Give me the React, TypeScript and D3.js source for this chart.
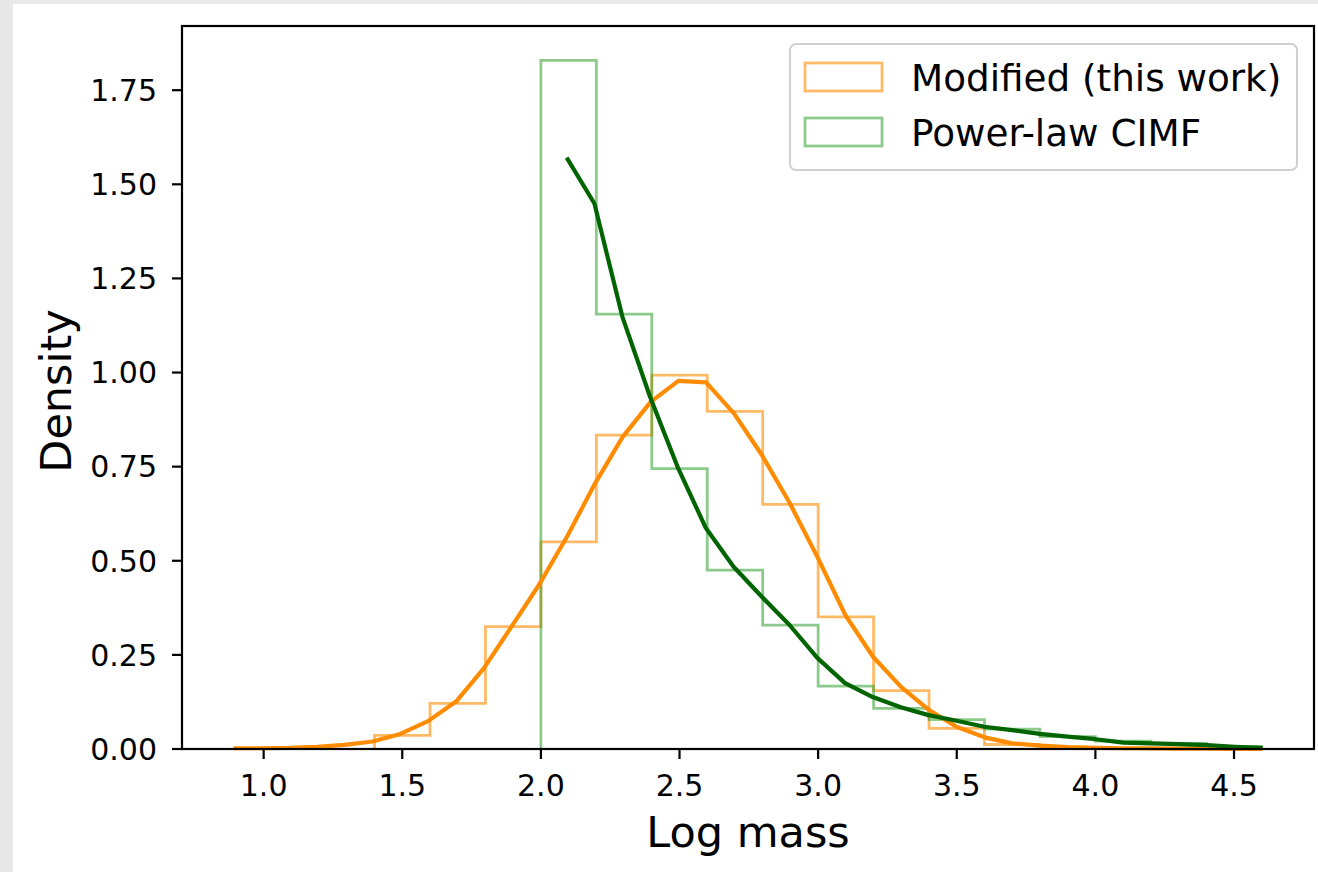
import React from "react";
import * as d3 from "d3";

// ---- data ----
const xTicks = [1.0, 1.5, 2.0, 2.5, 3.0, 3.5, 4.0, 4.5];
const yTicks = [0, 0.25, 0.5, 0.75, 1.0, 1.25, 1.5, 1.75];

const modifiedBinEdges = [1.4, 1.6, 1.8, 2.0, 2.2, 2.4, 2.6, 2.8, 3.0, 3.2, 3.4, 3.6, 3.8, 4.0, 4.2];
const modifiedBinValues = [0.036, 0.121, 0.325, 0.55, 0.834, 0.993, 0.897, 0.65, 0.351, 0.155, 0.055, 0.012, 0.004, 0.001];

const powerBinEdges = [2.0, 2.2, 2.4, 2.6, 2.8, 3.0, 3.2, 3.4, 3.6, 3.8, 4.0, 4.2, 4.4, 4.6];
const powerBinValues = [1.829, 1.155, 0.745, 0.475, 0.329, 0.167, 0.108, 0.078, 0.053, 0.033, 0.021, 0.015, 0.006];

const modifiedCurveX = [0.891, 0.991, 1.092, 1.192, 1.292, 1.393, 1.493, 1.593, 1.694, 1.794, 1.894, 1.994, 2.095, 2.195, 2.295, 2.396, 2.496, 2.596, 2.697, 2.797, 2.897, 2.998, 3.098, 3.198, 3.299, 3.399, 3.499, 3.6, 3.7, 3.8, 3.901, 4.001, 4.101, 4.202, 4.302, 4.402, 4.503, 4.603];
const modifiedCurveY = [0.002, 0.002, 0.003, 0.006, 0.011, 0.02, 0.04, 0.074, 0.126, 0.214, 0.325, 0.437, 0.565, 0.705, 0.829, 0.922, 0.978, 0.974, 0.891, 0.781, 0.654, 0.509, 0.356, 0.245, 0.165, 0.104, 0.059, 0.031, 0.015, 0.009, 0.005, 0.003, 0.002, 0.0015, 0.001, 0.0008, 0.0005, 0.0003];

const powerCurveX = [2.093, 2.193, 2.294, 2.394, 2.495, 2.595, 2.695, 2.796, 2.896, 2.997, 3.097, 3.197, 3.298, 3.398, 3.499, 3.599, 3.699, 3.8, 3.9, 4.001, 4.101, 4.201, 4.302, 4.402, 4.502, 4.603];
const powerCurveY = [1.571, 1.449, 1.148, 0.935, 0.746, 0.587, 0.484, 0.405, 0.33, 0.242, 0.175, 0.138, 0.111, 0.09, 0.075, 0.059, 0.05, 0.04, 0.033, 0.026, 0.017, 0.015, 0.013, 0.0105, 0.006, 0.003];

const legendLabels = ["Modified (this work)", "Power-law CIMF"];

// ---- layout ----
const W = 1318;
const H = 872;
const left = 182;
const right = 1314;
const top = 26;
const bottom = 749;
const FONT = "'DejaVu Sans', sans-serif";

const ORANGE = "#ff8c00";
const GREEN_HIST = "#2e9e2e";
const DARK_GREEN = "#006400";

export default function App() {
  const x = d3.scaleLinear().domain([0.7055, 4.7885]).range([left, right]);
  const y = d3.scaleLinear().domain([0, 1.9205]).range([bottom, top]);

  const line = d3
    .line<[number, number]>()
    .x((d) => x(d[0]))
    .y((d) => y(d[1]));

  const stepPts = (edges: number[], vals: number[]): [number, number][] => {
    const pts: [number, number][] = [[edges[0], 0]];
    vals.forEach((v, i) => {
      pts.push([edges[i], v]);
      pts.push([edges[i + 1], v]);
    });
    pts.push([edges[edges.length - 1], 0]);
    return pts;
  };

  const modHist = line(stepPts(modifiedBinEdges, modifiedBinValues)) || "";
  const powHist = line(stepPts(powerBinEdges, powerBinValues)) || "";
  const modCurve = line(modifiedCurveX.map((v, i) => [v, modifiedCurveY[i]] as [number, number])) || "";
  const powCurve = line(powerCurveX.map((v, i) => [v, powerCurveY[i]] as [number, number])) || "";

  return (
    <svg
      width={W}
      height={H}
      style={{ position: "absolute", left: 0, top: 0, display: "block" }}
      fontFamily={FONT}
    >
      <rect x={0} y={0} width={W} height={H} fill="#e8e8e8" />
      <rect x={13} y={4} width={W - 13} height={H - 4} fill="#ffffff" />

      {/* histograms */}
      <path d={modHist} fill="none" stroke={ORANGE} strokeOpacity={0.6} strokeWidth={2.8} strokeLinejoin="miter" />
      <path d={powHist} fill="none" stroke={GREEN_HIST} strokeOpacity={0.55} strokeWidth={2.8} strokeLinejoin="miter" />

      {/* curves */}
      <path d={modCurve} fill="none" stroke={ORANGE} strokeWidth={4.2} strokeLinejoin="round" />
      <path d={powCurve} fill="none" stroke={DARK_GREEN} strokeWidth={4.2} strokeLinejoin="round" />

      {/* axes frame */}
      <rect x={left} y={top} width={right - left} height={bottom - top} fill="none" stroke="#000" strokeWidth={2.2} />

      {/* x ticks */}
      {xTicks.map((t) => (
        <g key={"x" + t}>
          <line x1={x(t)} x2={x(t)} y1={bottom} y2={bottom + 10} stroke="#000" strokeWidth={2.2} />
          <text x={x(t)} y={796} textAnchor="middle" fontSize={30} fill="#000">
            {t.toFixed(1)}
          </text>
        </g>
      ))}

      {/* y ticks */}
      {yTicks.map((t) => (
        <g key={"y" + t}>
          <line x1={left - 10} x2={left} y1={y(t)} y2={y(t)} stroke="#000" strokeWidth={2.2} />
          <text x={157} y={y(t)} dy="0.36em" textAnchor="end" fontSize={30} fill="#000">
            {t.toFixed(2)}
          </text>
        </g>
      ))}

      {/* axis labels */}
      <text x={(left + right) / 2} y={847} textAnchor="middle" fontSize={43} fill="#000">
        Log mass
      </text>
      <text transform={`translate(71, 391) rotate(-90)`} textAnchor="middle" fontSize={43} fill="#000">
        Density
      </text>

      {/* legend */}
      <rect x={790} y={44} width={507} height={126} rx={6} ry={6} fill="#ffffff" fillOpacity={0.8} stroke="#d0d0d0" strokeWidth={2} />
      <rect x={805} y={63} width={77} height={28} fill="none" stroke={ORANGE} strokeOpacity={0.6} strokeWidth={2.8} />
      <rect x={805} y={118} width={77} height={28} fill="none" stroke={GREEN_HIST} strokeOpacity={0.55} strokeWidth={2.8} />
      <text x={911} y={91} fontSize={37.3} fill="#000">
        {legendLabels[0]}
      </text>
      <text x={911} y={146} fontSize={37.3} fill="#000">
        {legendLabels[1]}
      </text>
    </svg>
  );
}
